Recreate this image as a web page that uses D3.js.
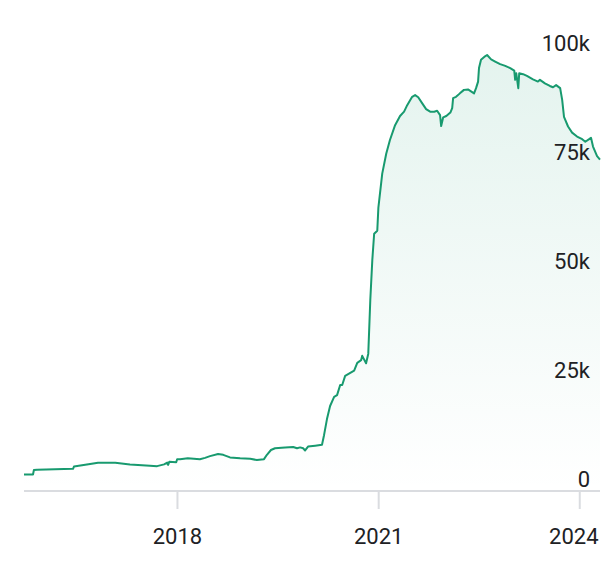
<!DOCTYPE html>
<html><head><meta charset="utf-8">
<script src="https://cdn.jsdelivr.net/npm/d3@7"></script>
<style>html,body{margin:0;padding:0;background:#fff;}svg{display:block;}</style>
</head><body>
<svg id="chart" width="616" height="562"></svg>
<script>
const dates = ["2015-09-21","2015-11-09","2015-11-14","2015-12-01","2016-06-14","2016-06-19","2016-09-15","2016-10-28","2017-01-30","2017-04-20","2017-08-07","2017-09-15","2017-10-23","2017-11-09","2017-11-14","2017-11-20","2017-12-28","2018-01-02","2018-01-18","2018-03-01","2018-05-06","2018-06-03","2018-06-30","2018-08-13","2018-09-10","2018-10-17","2018-12-11","2019-02-04","2019-03-12","2019-04-20","2019-05-06","2019-05-28","2019-06-19","2019-08-13","2019-09-26","2019-10-17","2019-11-03","2019-11-19","2019-11-30","2019-12-16","2020-01-24","2020-03-01","2020-03-12","2020-03-28","2020-04-14","2020-05-06","2020-05-22","2020-06-08","2020-06-19","2020-07-05","2020-08-23","2020-09-09","2020-09-30","2020-10-06","2020-10-27","2020-11-08","2020-11-19","2020-11-30","2020-12-10","2020-12-27","2021-01-02","2021-01-23","2021-02-14","2021-03-06","2021-04-03","2021-04-30","2021-05-22","2021-06-08","2021-07-05","2021-07-21","2021-08-07","2021-08-29","2021-09-19","2021-10-11","2021-11-02","2021-11-18","2021-12-04","2021-12-10","2021-12-21","2022-01-07","2022-01-29","2022-02-08","2022-02-13","2022-03-01","2022-03-22","2022-04-13","2022-05-05","2022-06-07","2022-06-18","2022-06-29","2022-07-04","2022-07-15","2022-08-06","2022-08-17","2022-09-08","2022-09-30","2022-10-27","2022-11-24","2022-12-21","2023-01-12","2023-01-17","2023-01-23","2023-02-03","2023-02-08","2023-03-01","2023-03-22","2023-04-24","2023-05-21","2023-06-01","2023-06-28","2023-07-25","2023-08-11","2023-08-28","2023-09-19","2023-09-30","2023-10-10","2023-11-01","2023-11-23","2023-12-20","2024-01-17","2024-02-03","2024-02-24","2024-03-05","2024-03-16","2024-04-07","2024-04-23"];
const values = [3800,3800,4800,4900,5100,5600,6200,6500,6500,6100,5800,5700,6100,6500,6000,6700,6600,7300,7300,7500,7300,7600,8000,8500,8300,7700,7500,7400,7100,7300,8300,9400,9800,10000,10100,9800,10000,9800,9300,10200,10400,10600,12800,16500,19500,21600,22000,24300,24300,26400,27600,29400,30000,31000,29300,31500,43800,53000,59000,59700,65000,72800,77400,80500,83900,86000,87000,88500,90400,90800,90300,88900,87600,87000,87000,87200,86200,83700,85700,86000,86800,87800,90100,90400,91200,92000,92100,91200,92400,93900,97000,98900,99700,100000,99000,98500,97900,97500,97000,96400,94300,95800,92400,95800,95600,95200,94400,93900,94300,93500,92900,92600,93100,92400,89700,85800,83600,82200,81300,80700,80100,80700,81000,79000,76800,76000];
const yTickValues = [0, 25000, 50000, 75000, 100000];
const yTickLabels = ["0", "25k", "50k", "75k", "100k"];
const xTickYears = [2018, 2021, 2024];

const parse = d3.timeParse("%Y-%m-%d");
const data = dates.map((d, i) => ({date: parse(d), value: values[i]}));

const svg = d3.select("#chart");
const left = 24, right = 600, baseY = 491, topY = 55;
const x = d3.scaleTime().domain(d3.extent(data, d => d.date)).range([left, right]);
const y = d3.scaleLinear().domain([0, 100000]).range([baseY, topY]);

const defs = svg.append("defs");
const grad = defs.append("linearGradient").attr("id", "fillGrad")
  .attr("gradientUnits", "userSpaceOnUse")
  .attr("x1", 0).attr("x2", 0).attr("y1", y(100000)).attr("y2", baseY);
grad.append("stop").attr("offset", "0%").attr("stop-color", "#1e9e74").attr("stop-opacity", 0.12);
grad.append("stop").attr("offset", "100%").attr("stop-color", "#1e9e74").attr("stop-opacity", 0.0);

const area = d3.area().x(d => x(d.date)).y0(baseY).y1(d => y(d.value));
const line = d3.line().x(d => x(d.date)).y(d => y(d.value));

svg.append("path").datum(data).attr("d", area).attr("fill", "url(#fillGrad)");

// x axis
const xAxis = d3.axisBottom(x)
  .tickValues(xTickYears.map(yr => new Date(yr, 0, 1)))
  .tickFormat(d3.timeFormat("%Y"))
  .tickSize(18).tickPadding(16);
const gx = svg.append("g").attr("transform", `translate(0,${baseY})`).call(xAxis);
gx.select(".domain").attr("stroke", "#dadce0").attr("stroke-width", 2)
  .attr("d", `M${left},0H${right}`);
gx.selectAll(".tick line").attr("stroke", "#dadce0").attr("stroke-width", 2);
gx.selectAll(".tick text").attr("font-family", "Roboto").attr("font-size", 22)
  .attr("fill", "#202124").attr("y", 53).attr("dy", 0)
  .each(function(d) {
    const t = d3.select(this);
    const w = this.getComputedTextLength();
    const px = x(d);
    if (px + w / 2 > right - 2) {
      t.attr("text-anchor", "end").attr("x", (right - 2) - px);
    }
  });

svg.append("path").datum(data).attr("d", line)
  .attr("fill", "none").attr("stroke", "#189a6f").attr("stroke-width", 2)
  .attr("stroke-linejoin", "round");

// y labels
const yAxis = d3.axisRight(y).tickValues(yTickValues)
  .tickFormat((d, i) => yTickLabels[i]).tickSize(0);
const gy = svg.append("g").attr("transform", `translate(590,0)`).call(yAxis);
gy.select(".domain").remove();
gy.selectAll(".tick text").attr("font-family", "Roboto").attr("font-size", 22)
  .attr("fill", "#202124").attr("text-anchor", "end").attr("x", 0).attr("dy", "-5");
</script>
</body></html>
